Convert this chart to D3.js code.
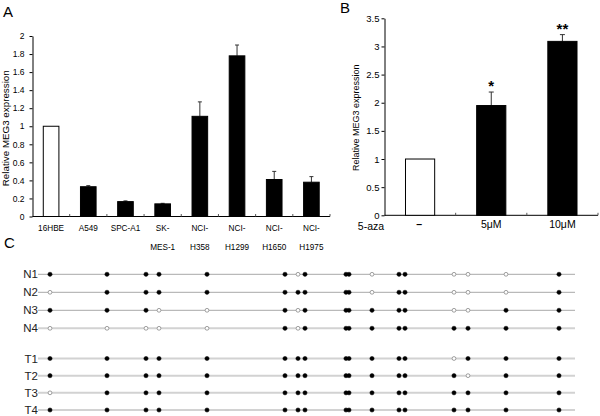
<!DOCTYPE html>
<html><head><meta charset="utf-8">
<script src="https://cdn.jsdelivr.net/npm/d3@7/dist/d3.min.js"></script>
<style>body{margin:0;background:#fff}svg{display:block;font-family:"Liberation Sans",Arial,sans-serif}</style>
</head><body><svg id="c" width="600" height="416"></svg>
<script>
// Panel A data
const cellLines = [["16HBE"],["A549"],["SPC-A1"],["SK-","MES-1"],["NCI-","H358"],["NCI-","H1299"],["NCI-","H1650"],["NCI-","H1975"]];
const expressionA = [1.0, 0.33, 0.165, 0.14, 1.11, 1.78, 0.41, 0.38];
const errorA = [0, 0.012, 0.008, 0.006, 0.16, 0.12, 0.09, 0.062];
const ticksA = [0,0.2,0.4,0.6,0.8,1,1.2,1.4,1.6,1.8,2];
// Panel B data
const treatments = ["–","5μM","10μM"];
const expressionB = [1.0, 1.95, 3.09];
const errorB = [0, 0.24, 0.12];
const signif = ["", "*", "**"];
const ticksB = [0,0.5,1,1.5,2,2.5,3,3.5];
// Panel C data
const normalSamples = ["N1","N2","N3","N4"];
const tumorSamples = ["T1","T2","T3","T4"];
const cpgSites = [12,69,108,121,169,247,260,267,308,311,334,361,367,416,430,468,521];
const regionLength = 537;
const methylation = {
  N1:"11111101110110001",
  N2:"01111111110110001",
  N3:"11100101111110011",
  N4:"00000101111111111",
  T1:"11111111111110111",
  T2:"11111111111111011",
  T3:"01111111111111111",
  T4:"11111111111111111"
};

const svg = d3.select("#c");
const FONT = '"Liberation Sans",Arial,sans-serif';

function letter(t, x, y){ svg.append("text").attr("x",x).attr("y",y).attr("font-size",15).text(t); }
letter("A",3,17); letter("B",340,13); letter("C",4,248);

// ---------- Panel A ----------
(function(){
  const left=32.5, right=330, bottom=216.5, top=36;
  const x = d3.scaleBand().domain(d3.range(cellLines.length)).range([left,right]).paddingInner(0.58).paddingOuter(0.29);
  const y = d3.scaleLinear().domain([0,2]).range([bottom,top]);
  const g = svg.append("g");
  const ya = g.append("g").attr("transform",`translate(${left},0)`)
    .call(d3.axisLeft(y).tickValues(ticksA).tickFormat(d3.format("")).tickSize(3).tickSizeOuter(0));
  ya.selectAll("text").attr("font-size",8.5).attr("font-family",FONT).attr("fill","#000").attr("x",-8);
  ya.select(".domain").attr("stroke","#000");
  ya.selectAll(".tick line").attr("stroke","#000");
  g.append("line").attr("x1",left).attr("x2",right).attr("y1",bottom).attr("y2",bottom).attr("stroke","#000");
  d3.range(1,cellLines.length+1).forEach(i=>{
    const bx = left + i*x.step();
    g.append("line").attr("x1",bx).attr("x2",bx).attr("y1",bottom).attr("y2",bottom-2.5).attr("stroke","#555");
  });
  expressionA.forEach((v,i)=>{
    if(errorA[i]<=0) return;
    const cx = x(i)+x.bandwidth()/2;
    g.append("line").attr("x1",cx).attr("x2",cx).attr("y1",y(v)).attr("y2",y(v+errorA[i])).attr("stroke","#333").attr("stroke-width",1);
    g.append("line").attr("x1",cx-2).attr("x2",cx+2).attr("y1",y(v+errorA[i])).attr("y2",y(v+errorA[i])).attr("stroke","#333");
  });
  g.selectAll("rect.bar").data(expressionA).enter().append("rect")
    .attr("x",(d,i)=>x(i)).attr("width",x.bandwidth())
    .attr("y",d=>y(d)).attr("height",d=>bottom-y(d))
    .attr("fill",(d,i)=>i===0?"#fff":"#000").attr("stroke","#000").attr("stroke-width",1);
  cellLines.forEach((lines,i)=>{
    const t = g.append("text").attr("text-anchor","middle").attr("font-size",8.2).attr("x",x(i)+x.bandwidth()/2);
    lines.forEach((s,k)=>t.append("tspan").attr("x",x(i)+x.bandwidth()/2).attr("y",231+k*18.5).text(s));
  });
  g.append("text").attr("transform",`translate(9,${(top+bottom)/2+2}) rotate(-90)`).attr("text-anchor","middle")
    .attr("font-size",9.8).text("Relative MEG3 expression");
})();

// ---------- Panel B ----------
(function(){
  const left=384.5, right=598, bottom=215.3, top=18.3;
  const x = d3.scaleBand().domain(d3.range(treatments.length)).range([left,right]).paddingInner(0.59).paddingOuter(0.295);
  const y = d3.scaleLinear().domain([0,3.5]).range([bottom,top]);
  const g = svg.append("g");
  const ya = g.append("g").attr("transform",`translate(${left},0)`)
    .call(d3.axisLeft(y).tickValues(ticksB).tickFormat(d3.format("")).tickSize(3).tickSizeOuter(0));
  ya.selectAll("text").attr("font-size",9.5).attr("font-family",FONT).attr("fill","#000").attr("x",-5);
  ya.select(".domain").attr("stroke","#000");
  ya.selectAll(".tick line").attr("stroke","#000");
  g.append("line").attr("x1",left).attr("x2",right).attr("y1",bottom).attr("y2",bottom).attr("stroke","#000");
  d3.range(1,treatments.length+1).forEach(i=>{
    const bx = left + i*x.step();
    g.append("line").attr("x1",bx).attr("x2",bx).attr("y1",bottom).attr("y2",bottom-2.5).attr("stroke","#555");
  });
  expressionB.forEach((v,i)=>{
    const cx = x(i)+x.bandwidth()/2;
    if(errorB[i]>0){
      g.append("line").attr("x1",cx).attr("x2",cx).attr("y1",y(v)).attr("y2",y(v+errorB[i])).attr("stroke","#333");
      g.append("line").attr("x1",cx-2.5).attr("x2",cx+2.5).attr("y1",y(v+errorB[i])).attr("y2",y(v+errorB[i])).attr("stroke","#333");
    }
    if(signif[i]) g.append("text").attr("x",cx).attr("y",y(v+errorB[i])-1).attr("text-anchor","middle")
      .attr("font-size",15).attr("font-weight","bold").text(signif[i]);
  });
  g.selectAll("rect.bar").data(expressionB).enter().append("rect")
    .attr("x",(d,i)=>x(i)).attr("width",x.bandwidth())
    .attr("y",d=>y(d)).attr("height",d=>bottom-y(d))
    .attr("fill",(d,i)=>i===0?"#fff":"#000").attr("stroke","#000").attr("stroke-width",1);
  treatments.forEach((s,i)=>{
    g.append("text").attr("x",x(i)+x.bandwidth()/2 + (i===0?-1:0)).attr("y",228).attr("text-anchor","middle")
      .attr("font-size",10.5).attr("font-weight",i===0?"bold":"normal").text(s);
  });
  g.append("text").attr("x",371).attr("y",229.5).attr("text-anchor","middle").attr("font-size",10.5).text("5-aza");
  g.append("text").attr("transform",`translate(359,${(top+bottom)/2+1}) rotate(-90)`).attr("text-anchor","middle")
    .attr("font-size",9).text("Relative MEG3 expression");
})();

// ---------- Panel C ----------
(function(){
  const x = d3.scaleLinear().domain([0,regionLength]).range([38,575]);
  const yN = d3.scalePoint().domain(normalSamples).range([274.3,328.3]);
  const yT = d3.scalePoint().domain(tumorSamples).range([358.5,410]);
  const rows = normalSamples.map(s=>({s,y:yN(s)})).concat(tumorSamples.map(s=>({s,y:yT(s)})));
  const g = svg.append("g");
  rows.forEach((r,i)=>{
    const yy = r.y;
    const light = i>=3;
    g.append("line").attr("x1",x(0)).attr("x2",x(regionLength)).attr("y1",yy).attr("y2",yy)
      .attr("stroke",light?"#d2d2d2":"#a8a8a8").attr("stroke-width",light?2:1);
    g.append("text").attr("x",x(0)).attr("y",yy).attr("dy","0.36em").attr("text-anchor","end")
      .attr("font-size",11.5).attr("fill","#222").text(r.s);
    cpgSites.forEach((p,k)=>{
      const m = methylation[r.s][k]==="1";
      g.append("circle").attr("cx",x(p)).attr("cy",yy).attr("r",m?2.1:1.9)
        .attr("fill",m?"#000":"#fff").attr("stroke",m?"#000":"#888").attr("stroke-width",m?0.5:0.8);
    });
  });
})();
</script></body></html>
